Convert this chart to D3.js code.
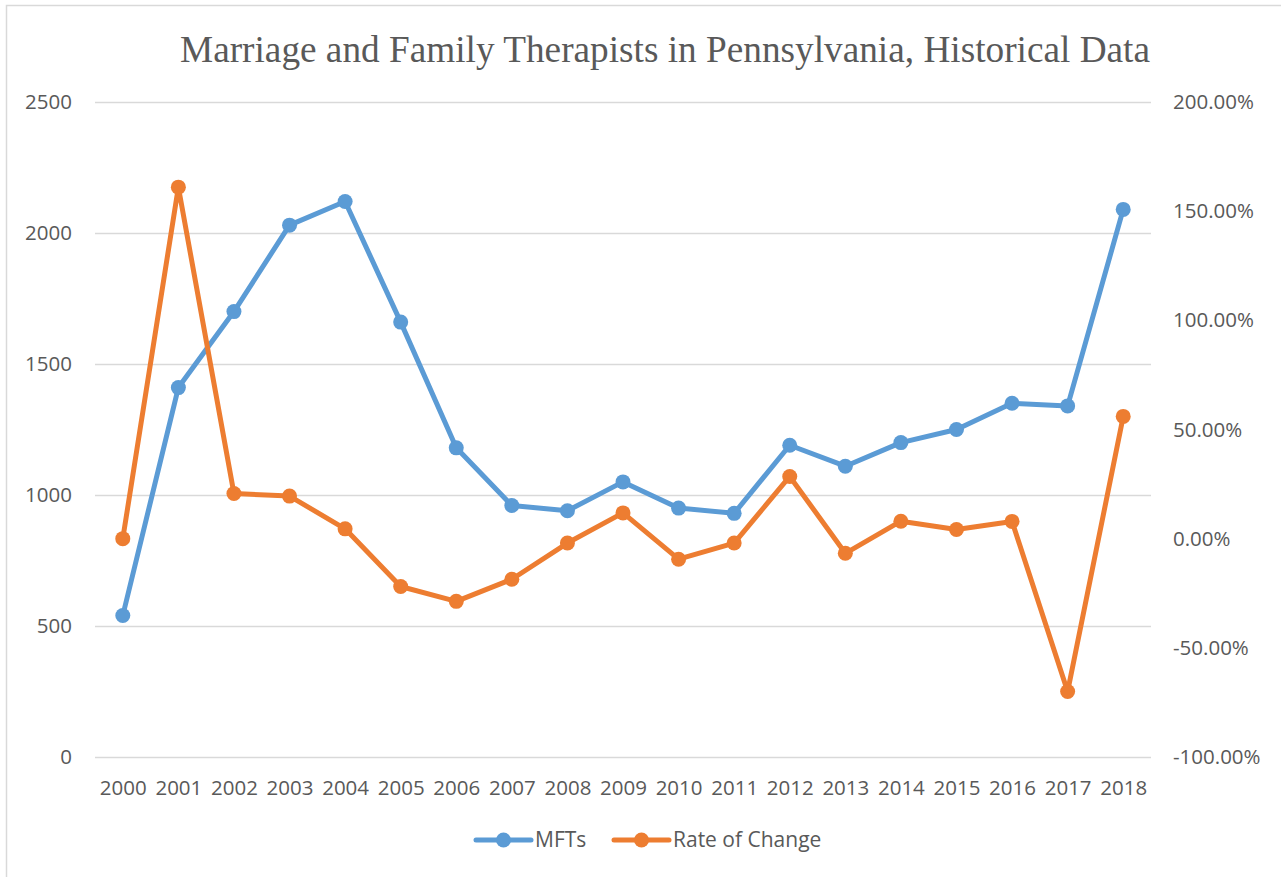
<!DOCTYPE html>
<html>
<head>
<meta charset="utf-8">
<script src="https://cdn.jsdelivr.net/npm/d3@7"></script>
<style>
  body { margin: 0; background: #fff; }
  svg text { fill: #595959; }
</style>
</head>
<body>
<svg id="svg"></svg>
<script>

const width = 1281;
const height = 877;

// data
const years = ["2000","2001","2002","2003","2004","2005","2006","2007","2008","2009",
               "2010","2011","2012","2013","2014","2015","2016","2017","2018"];
const mfts = [540, 1410, 1700, 2030, 2120, 1660, 1180, 960, 940, 1050,
              950, 930, 1190, 1110, 1200, 1250, 1350, 1340, 2090];
const rateOfChange = [0, 1.61, 0.207, 0.195, 0.045, -0.219, -0.287, -0.186, -0.02, 0.118,
                      -0.094, -0.02, 0.285, -0.067, 0.08, 0.042, 0.079, -0.70, 0.56];
const leftTicks = [0, 500, 1000, 1500, 2000, 2500];
const rightTicks = [-1, -0.5, 0, 0.5, 1, 1.5, 2];
const titleText = "Marriage and Family Therapists in Pennsylvania, Historical Data";
const seriesNames = ["MFTs", "Rate of Change"];
const colors = ["#5B9BD5", "#ED7D31"];

const plot = { left: 95, right: 1151, top: 102, bottom: 757 };
const labelFont = "'Open Sans', sans-serif";
const pct = d3.format(".2%");

const svg = d3.select("#svg")
  .attr("width", width)
  .attr("height", height);

// chart frame (only left/top edges are visible in the picture)
svg.append("rect")
  .attr("x", 6.5).attr("y", 5.5)
  .attr("width", width + 20).attr("height", height + 20)
  .attr("fill", "none")
  .attr("stroke", "#D9D9D9")
  .attr("stroke-width", 1.5);

const x = d3.scalePoint()
  .domain(years)
  .range([plot.left, plot.right])
  .padding(0.5);

const yLeft = d3.scaleLinear()
  .domain([0, 2500])
  .range([plot.bottom, plot.top]);

const yRight = d3.scaleLinear()
  .domain([-1, 2])
  .range([plot.bottom, plot.top]);

// gridlines
svg.append("g")
  .attr("transform", `translate(${plot.left},0)`)
  .call(d3.axisLeft(yLeft).tickValues(leftTicks).tickSize(-(plot.right - plot.left)).tickFormat(""))
  .call(g => g.select(".domain").remove())
  .call(g => g.selectAll("line").attr("stroke", "#D9D9D9").attr("stroke-width", 1.3));

// left axis labels
svg.append("g")
  .attr("transform", `translate(${plot.left},0)`)
  .call(d3.axisLeft(yLeft).tickValues(leftTicks).tickSize(0).tickPadding(23).tickFormat(d3.format("d")))
  .call(g => g.select(".domain").remove())
  .call(g => g.selectAll("text").attr("fill", "#595959").style("font", `20.5px ${labelFont}`));

// right axis labels
svg.append("g")
  .attr("transform", `translate(${plot.right},0)`)
  .call(d3.axisRight(yRight).tickValues(rightTicks).tickSize(0).tickPadding(22)
    .tickFormat(d => pct(d).replace("\u2212", "-")))
  .call(g => g.select(".domain").remove())
  .call(g => g.selectAll("text").attr("fill", "#595959").style("font", `20.5px ${labelFont}`));

// bottom axis labels
svg.append("g")
  .attr("transform", `translate(0,${plot.bottom})`)
  .call(d3.axisBottom(x).tickSize(0).tickPadding(23))
  .call(g => g.select(".domain").remove())
  .call(g => g.selectAll("text").attr("fill", "#595959").style("font", `20.5px ${labelFont}`));

// title
svg.append("text")
  .attr("x", 665)
  .attr("y", 62)
  .attr("text-anchor", "middle")
  .attr("textLength", 970)
  .attr("lengthAdjust", "spacingAndGlyphs")
  .style("font", "37px 'Liberation Serif', 'Times New Roman', serif")
  .text(titleText);

const series = [
  { name: seriesNames[0], values: mfts, y: yLeft, color: colors[0] },
  { name: seriesNames[1], values: rateOfChange, y: yRight, color: colors[1] }
];

series.forEach(s => {
  const line = d3.line()
    .x((d, i) => x(years[i]))
    .y(d => s.y(d));

  svg.append("path")
    .datum(s.values)
    .attr("d", line)
    .attr("fill", "none")
    .attr("stroke", s.color)
    .attr("stroke-width", 5)
    .attr("stroke-linejoin", "round");

  svg.append("g")
    .selectAll("circle")
    .data(s.values)
    .join("circle")
    .attr("cx", (d, i) => x(years[i]))
    .attr("cy", d => s.y(d))
    .attr("r", 7.5)
    .attr("fill", s.color);
});

// legend
const legendItems = [
  { name: seriesNames[0], color: colors[0], x: 476 },
  { name: seriesNames[1], color: colors[1], x: 614 }
];
const legend = svg.append("g").attr("transform", "translate(0,840)");
legendItems.forEach(item => {
  legend.append("line")
    .attr("x1", item.x).attr("x2", item.x + 55)
    .attr("stroke", item.color)
    .attr("stroke-width", 5)
    .attr("stroke-linecap", "round");
  legend.append("circle")
    .attr("cx", item.x + 27.5)
    .attr("r", 7.5)
    .attr("fill", item.color);
  legend.append("text")
    .attr("x", item.x + 59)
    .attr("dy", "0.35em")
    .style("font", `21px ${labelFont}`)
    .text(item.name);
});

</script>
</body>
</html>
